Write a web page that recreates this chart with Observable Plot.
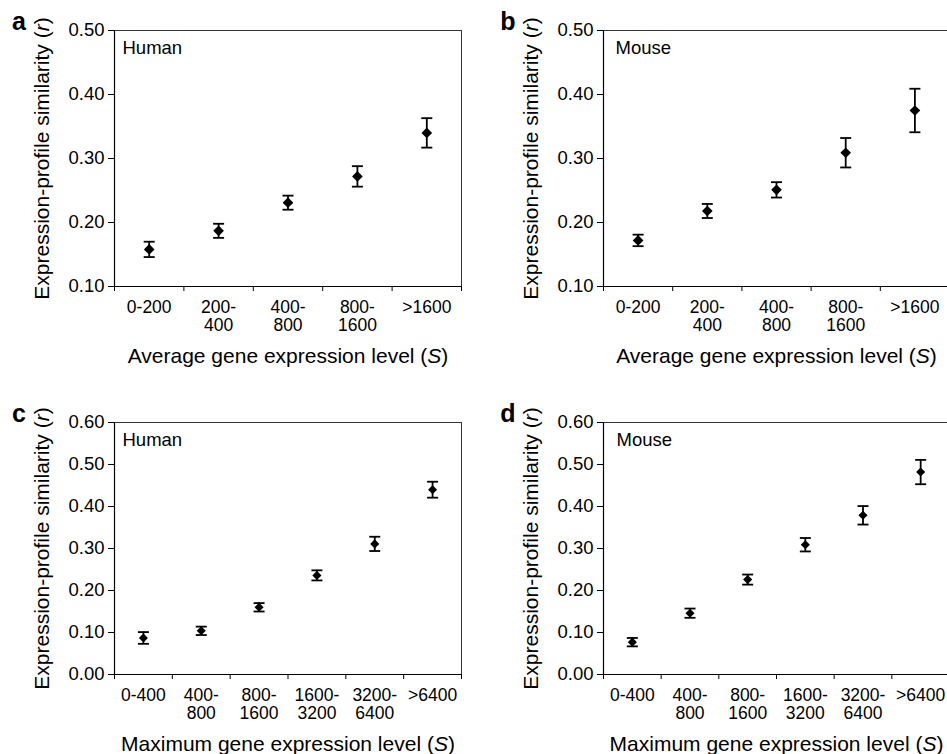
<!DOCTYPE html>
<html><head><meta charset="utf-8">
<script src="https://cdn.jsdelivr.net/npm/d3@7"></script>
<script src="https://cdn.jsdelivr.net/npm/@observablehq/plot@0.6"></script>
<style>
body{margin:0;background:#fff;overflow:hidden;}
#wrap{position:relative;width:947px;height:754px;overflow:hidden;background:#fff;}
.panel{position:absolute;}
.panel svg{max-width:none !important;}
</style></head><body><div id="wrap"></div>
<script>
// ---- data ----
const avgCategories = ["0-200", "200-\n400", "400-\n800", "800-\n1600", ">1600"];
const maxCategories = ["0-400", "400-\n800", "800-\n1600", "1600-\n3200", "3200-\n6400", ">6400"];

const humanAvg = [0.158, 0.187, 0.231, 0.272, 0.340];
const humanAvgErr = [0.012, 0.011, 0.011, 0.016, 0.023];
const mouseAvg = [0.172, 0.218, 0.251, 0.309, 0.375];
const mouseAvgErr = [0.009, 0.011, 0.012, 0.023, 0.034];

const humanMax = [0.087, 0.104, 0.160, 0.236, 0.311, 0.440];
const humanMaxErr = [0.014, 0.010, 0.010, 0.012, 0.017, 0.019];
const mouseMax = [0.077, 0.146, 0.226, 0.309, 0.379, 0.482];
const mouseMaxErr = [0.010, 0.011, 0.012, 0.016, 0.022, 0.029];

const yTicksAvg = [0.10, 0.20, 0.30, 0.40, 0.50];
const yTicksMax = [0.00, 0.10, 0.20, 0.30, 0.40, 0.50, 0.60];

const yTitle = "Expression-profile similarity (r)";
const xTitleAvg = "Average gene expression level (S)";
const xTitleMax = "Maximum gene expression level (S)";

// ---- symbols ----
const diamond = {draw(ctx, size) {
  const r = Math.sqrt(size) * 0.62625;
  ctx.moveTo(0, -r); ctx.lineTo(r, 0); ctx.lineTo(0, r); ctx.lineTo(-r, 0); ctx.closePath();
}};
const cap = {draw(ctx, size) {
  const w = Math.sqrt(size / Math.PI);
  ctx.moveTo(-w, 0); ctx.lineTo(w, 0);
}};

const FONT = "Arial, 'Liberation Sans', Helvetica, sans-serif";

function panel(cfg) {
  const {letter, species, speciesDx, cats, values, errors, yDomain, yTicks, xTitle,
         left, top, width, height, mL, mR, mT, mB, dotR} = cfg;
  const n = cats.length;
  const rows = values.map((v, i) => ({pos: i + 0.5, v, e: errors[i]}));
  const chart = Plot.plot({
    width, height,
    marginLeft: mL, marginRight: mR, marginTop: mT, marginBottom: mB,
    x: {type: "linear", domain: [0, n]},
    y: {domain: yDomain},
    style: {fontFamily: FONT, fontSize: "18.5px", color: "black", background: "white", overflow: "visible", maxWidth: "none"},
    marks: [
      Plot.frame({stroke: "#333", strokeWidth: 1}),
      Plot.ruleX([0], {stroke: "black", strokeWidth: 1.2}),
      Plot.ruleY([yDomain[0]], {stroke: "black", strokeWidth: 1.2}),
      Plot.axisY({ticks: yTicks, tickFormat: d3.format(".2f"), tickSize: 6, tickPadding: 4, label: null, fontSize: 18.5}),
      Plot.axisX({ticks: d3.range(n + 1), tickFormat: () => "", tickSize: 5, label: null}),
      Plot.axisX({ticks: cats.map((_, i) => i + 0.5), tickFormat: d => cats[Math.round(d - 0.5)],
                  tickSize: 0, tickPadding: 14, label: null, fontSize: 17.5, lineHeight: 1.03}),
      Plot.ruleX(rows, {x: "pos", y1: d => d.v - d.e, y2: d => d.v + d.e, stroke: "black", strokeWidth: 1.8}),
      Plot.dot(rows, {x: "pos", y: d => d.v - d.e, symbol: cap, r: 5.5, fill: "none", stroke: "black", strokeWidth: 1.8}),
      Plot.dot(rows, {x: "pos", y: d => d.v + d.e, symbol: cap, r: 5.5, fill: "none", stroke: "black", strokeWidth: 1.8}),
      Plot.dot(rows, {x: "pos", y: "v", symbol: diamond, r: dotR, fill: "black", stroke: "none"}),
      Plot.text([species], {frameAnchor: "top-left", dx: speciesDx, dy: 18, textAnchor: "start", lineAnchor: "middle", fontSize: 18.5}),
      Plot.text([letter], {frameAnchor: "top-left", dx: -95.5, dy: -9, textAnchor: "middle", lineAnchor: "middle", fontSize: 25, fontWeight: "bold"}),
      Plot.text([yTitle], {frameAnchor: "left", dx: -72, rotate: -90, textAnchor: "middle", lineAnchor: "middle", fontSize: 21}),
      Plot.text([xTitle], {frameAnchor: "bottom", dy: 70, textAnchor: "middle", lineAnchor: "middle", fontSize: 21})
    ]
  });
  chart.querySelectorAll("text").forEach(t => {
    if (t.textContent === yTitle) t.innerHTML = 'Expression-profile similarity (<tspan font-style="italic">r</tspan>)';
    else if (t.textContent === xTitle) t.innerHTML = xTitle.replace("(S)", '(<tspan font-style="italic">S</tspan>)');
  });
  const div = document.createElement("div");
  div.className = "panel";
  div.style.left = left + "px";
  div.style.top = top + "px";
  div.style.width = width + "px";
  div.appendChild(chart);
  document.getElementById("wrap").appendChild(div);
}

panel({letter: "a", species: "Human", speciesDx: 8, cats: avgCategories, values: humanAvg, errors: humanAvgErr,
  yDomain: [0.1, 0.5], yTicks: yTicksAvg, xTitle: xTitleAvg,
  left: 0, top: 0, width: 473, height: 370, mL: 114, mR: 12, mT: 30, mB: 84, dotR: 4.8});
panel({letter: "b", species: "Mouse", speciesDx: 12, cats: avgCategories, values: mouseAvg, errors: mouseAvgErr,
  yDomain: [0.1, 0.5], yTicks: yTicksAvg, xTitle: xTitleAvg,
  left: 473, top: 0, width: 480, height: 370, mL: 130, mR: 4, mT: 30, mB: 84, dotR: 4.8});
panel({letter: "c", species: "Human", speciesDx: 8, cats: maxCategories, values: humanMax, errors: humanMaxErr,
  yDomain: [0, 0.6], yTicks: yTicksMax, xTitle: xTitleMax,
  left: 0, top: 380, width: 473, height: 374, mL: 114, mR: 12, mT: 42, mB: 80, dotR: 4.1});
panel({letter: "d", species: "Mouse", speciesDx: 13, cats: maxCategories, values: mouseMax, errors: mouseMaxErr,
  yDomain: [0, 0.6], yTicks: yTicksMax, xTitle: xTitleMax,
  left: 473, top: 380, width: 480, height: 374, mL: 130, mR: 4, mT: 42, mB: 80, dotR: 4.1});
</script>
</body></html>
